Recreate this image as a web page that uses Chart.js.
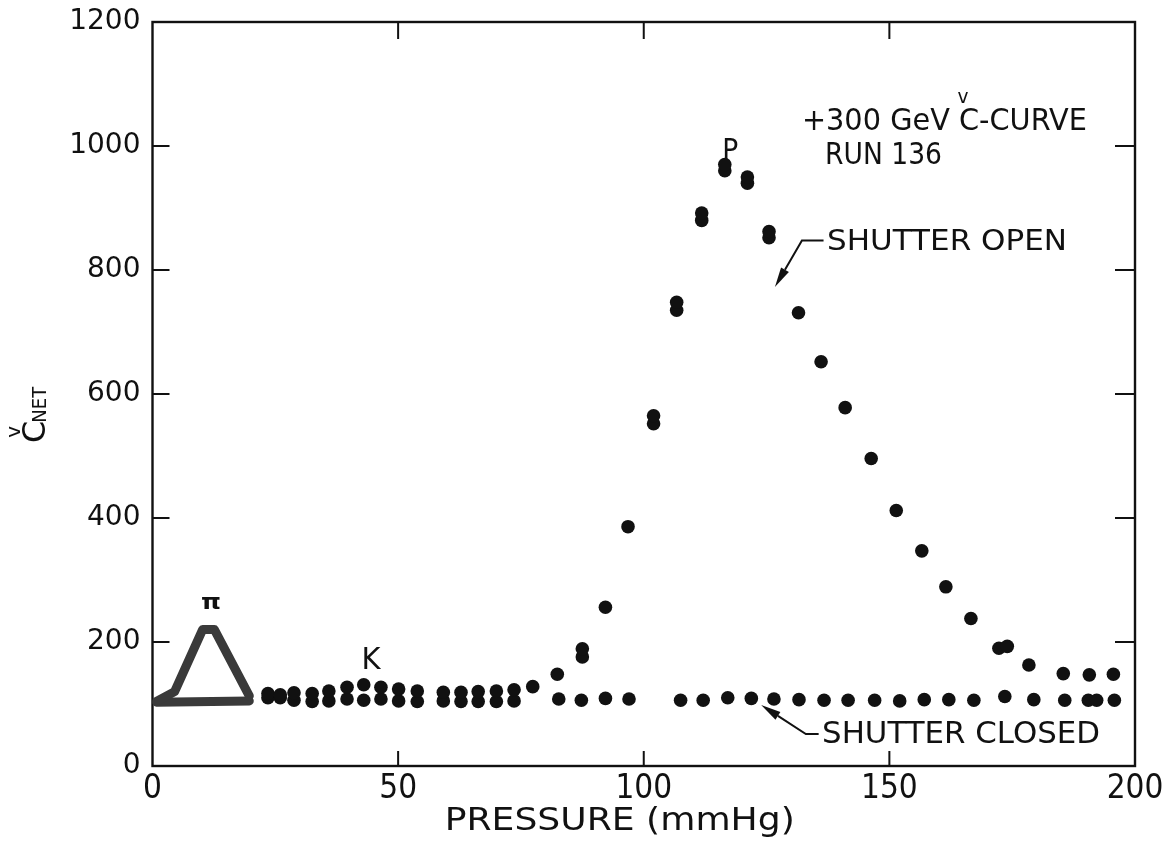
<!DOCTYPE html>
<html><head><meta charset="utf-8">
<script src="https://cdn.jsdelivr.net/npm/chart.js@4.4.1/dist/chart.umd.min.js"></script>
<style>html,body{margin:0;padding:0;background:#fff;}#wrap{width:1173px;height:846px;}</style>
</head><body><div id="wrap"><canvas id="c" width="1173" height="846"></canvas></div>
<script>
// ---- tick labels ----
const xTicks = [0, 50, 100, 150, 200];
const yTicks = [0, 200, 400, 600, 800, 1000, 1200];

// ---- pi peak (dense trace drawn as a thick line) ----
const piOpenP = [0.8, 4.5, 10.2, 12.6, 19.7];
const piOpenC = [104, 120, 220, 220, 113];
const piClosedP = [0.8, 19.7];
const piClosedC = [103, 105];

// ---- SHUTTER OPEN points ----
const openP = [23.5, 26, 28.8, 32.5, 35.9, 39.6, 43, 46.5, 50.1, 53.9, 59.2, 62.8, 66.3, 70, 73.6, 77.4,
  82.4, 87.5, 87.5, 92.2, 96.8, 102, 102, 106.7, 106.7, 111.8, 111.8, 116.5, 116.5, 121.1, 121.1,
  125.5, 125.5, 131.5, 136.1, 141, 146.3, 151.4, 156.6, 161.5, 166.6, 172.3, 174.0, 178.4, 185.4, 190.7, 195.6];
const openC = [117, 115, 118, 117, 121, 127, 131, 127, 124, 121, 119, 119, 120, 121, 123, 128,
  148, 176, 189, 256, 386, 552, 565, 735, 748, 880, 892, 960, 970, 940, 950,
  852, 862, 731, 652, 578, 496, 412, 347, 289, 238, 190, 193, 163, 149, 147, 148];

// ---- SHUTTER CLOSED points ----
const closedP = [23.5, 26, 28.8, 32.5, 35.9, 39.6, 43, 46.5, 50.1, 53.9, 59.2, 62.8, 66.3, 70, 73.6,
  82.7, 87.3, 92.2, 97, 107.5, 112.1, 117.1, 121.9, 126.5, 131.6, 136.7, 141.6, 147, 152.1, 157.1,
  162.1, 167.2, 173.5, 179.4, 185.7, 190.5, 192.2, 195.8];
const closedC = [110, 110, 106, 104, 105, 108, 106, 108, 105, 104, 105, 104, 104, 104, 105,
  108, 106, 109, 108, 106, 106, 110, 109, 108, 107, 106, 106, 106, 105, 107,
  107, 106, 112, 107, 106, 106, 106, 106];

const toXY = (xs, ys) => xs.map((v, i) => ({x: v, y: ys[i]}));

const INK = '#111';
const FONT = '"DejaVu Sans", "Liberation Sans", sans-serif';
const NARROW = '"DejaVu Sans Condensed", "Liberation Sans Narrow", "Roboto Condensed", "DejaVu Sans", sans-serif';

// annotation layout (data coordinates) – styling, not data
const notes = [
  {t: '+300 GeV C-CURVE', x: 132.2, y: 1038, w: 285, size: 30},
  {t: 'v', x: 165.0, y: 1078, w: 11, size: 19, center: true},
  {t: 'RUN 136', x: 136.9, y: 983, w: 117, size: 30},
  {t: 'SHUTTER OPEN', x: 137.3, y: 844, w: 240, size: 29},
  {t: 'SHUTTER CLOSED', x: 136.3, y: 50, w: 278, size: 30},
  {t: 'P', x: 117.6, y: 990, w: 16, size: 31, center: true},
  {t: 'K', x: 44.5, y: 169, w: 19, size: 30, center: true},
  {t: 'π', x: 11.9, y: 262, w: 20, size: 22, center: true, bold: true}
];
const arrows = [
  {pts: [[136.6, 847.6], [132.2, 847.6], [126.7, 772.6]]},
  {pts: [[135.6, 51.6], [133.0, 51.6], [123.9, 98.4]]}
];

function fitText(ctx, t, x, y, w, size, center, bold) {
  ctx.save();
  ctx.font = (bold ? 'bold ' : '') + size + 'px ' + FONT;
  const m = ctx.measureText(t).width;
  const sx = w / m;
  ctx.translate(center ? x - w / 2 : x, y);
  ctx.scale(sx, 1);
  ctx.textAlign = 'left';
  ctx.textBaseline = 'middle';
  ctx.fillText(t, 0, 0);
  ctx.restore();
}

const decor = {
  id: 'decor',
  beforeDatasetsDraw(chart) {
    const {ctx, chartArea: a, scales: {x, y}} = chart;
    ctx.save();
    ctx.strokeStyle = INK;
    ctx.lineWidth = 2.4;
    ctx.strokeRect(a.left, a.top, a.right - a.left, a.bottom - a.top);
    ctx.lineWidth = 2;
    ctx.beginPath();
    xTicks.forEach(v => {
      if (v === xTicks[0] || v === xTicks[xTicks.length - 1]) return;
      const p = x.getPixelForValue(v);
      ctx.moveTo(p, a.bottom); ctx.lineTo(p, a.bottom - 15);
      ctx.moveTo(p, a.top); ctx.lineTo(p, a.top + 17);
    });
    yTicks.forEach(v => {
      if (v === yTicks[0] || v === yTicks[yTicks.length - 1]) return;
      const p = y.getPixelForValue(v);
      ctx.moveTo(a.left, p); ctx.lineTo(a.left + 17, p);
      ctx.moveTo(a.right, p); ctx.lineTo(a.right - 20, p);
    });
    ctx.stroke();
    ctx.restore();
  },
  afterDraw(chart) {
    const {ctx, chartArea: a, scales: {x, y}} = chart;
    ctx.save();
    ctx.fillStyle = INK;
    ctx.strokeStyle = INK;
    notes.forEach(n => fitText(ctx, n.t, x.getPixelForValue(n.x), y.getPixelForValue(n.y), n.w, n.size, n.center, n.bold));
    // arrows
    arrows.forEach(ar => {
      const P = ar.pts.map(p => [x.getPixelForValue(p[0]), y.getPixelForValue(p[1])]);
      const tip = P[P.length - 1], prev = P[P.length - 2];
      const dx = tip[0] - prev[0], dy = tip[1] - prev[1];
      const L = Math.hypot(dx, dy), ux = dx / L, uy = dy / L;
      const hl = 20, hw = 4.5;
      const bx = tip[0] - ux * hl, by = tip[1] - uy * hl;
      ctx.lineWidth = 2;
      ctx.beginPath();
      ctx.moveTo(P[0][0], P[0][1]);
      for (let i = 1; i < P.length - 1; i++) ctx.lineTo(P[i][0], P[i][1]);
      ctx.lineTo(bx, by);
      ctx.stroke();
      ctx.beginPath();
      ctx.moveTo(tip[0], tip[1]);
      ctx.lineTo(bx - uy * hw, by + ux * hw);
      ctx.lineTo(bx + uy * hw, by - ux * hw);
      ctx.closePath();
      ctx.fill();
    });
    // x title
    fitText(ctx, 'PRESSURE (mmHg)', (a.left + a.right) / 2 - 24, 822, 350, 32, true, false);
    // y title: C with caron, subscript NET, rotated
    ctx.save();
    ctx.translate(45, 443);
    ctx.rotate(-Math.PI / 2);
    ctx.textBaseline = 'alphabetic';
    ctx.font = '32px ' + FONT;
    ctx.fillText('C', 0, 0);
    const cw = ctx.measureText('C').width;
    ctx.font = '19px ' + FONT;
    ctx.save(); ctx.translate(cw - 2, 1); ctx.scale(0.95, 1); ctx.fillText('NET', 0, 0); ctx.restore();
    ctx.font = '20px ' + FONT;
    ctx.textAlign = 'center';
    ctx.fillText('v', cw / 2, -25);
    ctx.restore();
    ctx.restore();
  }
};

new Chart(document.getElementById('c'), {
  type: 'scatter',
  data: {
    datasets: [
      {label: 'π open', data: toXY(piOpenP, piOpenC), showLine: true, borderColor: '#3a3a3a', borderWidth: 9,
       pointRadius: 0, borderJoinStyle: 'round', borderCapStyle: 'round', tension: 0},
      {label: 'π closed', data: toXY(piClosedP, piClosedC), showLine: true, borderColor: '#3a3a3a', borderWidth: 9,
       pointRadius: 0, borderCapStyle: 'round', tension: 0},
      {label: 'SHUTTER OPEN', data: toXY(openP, openC), pointRadius: 6.8, backgroundColor: INK, borderWidth: 0},
      {label: 'SHUTTER CLOSED', data: toXY(closedP, closedC), pointRadius: 6.8, backgroundColor: INK, borderWidth: 0}
    ]
  },
  options: {
    responsive: false,
    animation: false,
    devicePixelRatio: 1,
    layout: {padding: {top: 22, right: 38, left: 0, bottom: 0}},
    plugins: {legend: {display: false}, tooltip: {enabled: false}},
    scales: {
      x: {
        type: 'linear', min: 0, max: 200,
        afterBuildTicks: s => { s.ticks = xTicks.map(v => ({value: v})); },
        afterFit: s => { s.height = 80; s.paddingLeft = 0; s.paddingRight = 0; },
        grid: {display: false, drawTicks: false},
        border: {display: false},
        ticks: {color: INK, padding: 4, maxRotation: 0, font: {family: NARROW, size: 33},
                callback: v => String(v)}
      },
      y: {
        type: 'linear', min: 0, max: 1200,
        afterBuildTicks: s => { s.ticks = yTicks.map(v => ({value: v})); },
        afterFit: s => { s.width = 152.5; s.paddingTop = 0; s.paddingBottom = 0; },
        grid: {display: false, drawTicks: false},
        border: {display: false},
        ticks: {color: INK, padding: 12, font: {family: FONT, size: 28},
                callback: v => String(v)}
      }
    }
  },
  plugins: [decor]
});
</script>
</body></html>
